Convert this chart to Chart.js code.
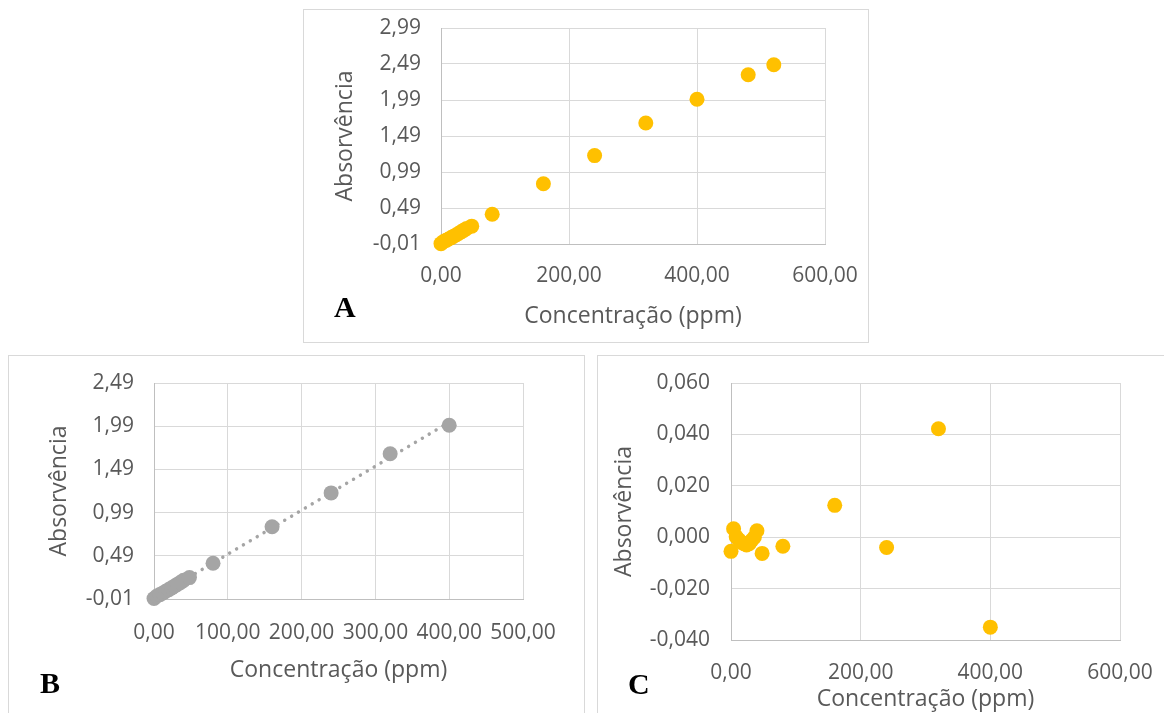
<!DOCTYPE html>
<html>
<head>
<meta charset="utf-8">
<script src="https://cdn.jsdelivr.net/npm/chart.js@4.4.1/dist/chart.umd.min.js"></script>
<style>
    body { margin: 0; background: #ffffff; }
    #page { position: relative; width: 1164px; height: 713px; overflow: hidden; background: #ffffff; }
    .box { position: absolute; border: 1px solid #d9d9d9; box-sizing: border-box; background: #ffffff; }
    canvas { position: absolute; }
    .letter { position: absolute; font-family: "Liberation Serif", "Times New Roman", serif; font-weight: bold; font-size: 30px; line-height: 30px; color: #000000; }
</style>
</head>
<body>
<div id="page">
    <div class="box" style="left:303px; top:9px; width:566px; height:334px;"></div>
    <div class="box" style="left:8px; top:355px; width:577px; height:370px;"></div>
    <div class="box" style="left:597px; top:355px; width:580px; height:370px;"></div>
    <canvas id="chartA" style="left:304px; top:10px;" width="564" height="332"></canvas>
    <canvas id="chartB" style="left:9px; top:356px;" width="575" height="357"></canvas>
    <canvas id="chartC" style="left:598px; top:356px;" width="566" height="357"></canvas>
    <div class="letter" style="left:334px; top:292px;">A</div>
    <div class="letter" style="left:40px; top:668px;">B</div>
    <div class="letter" style="left:628px; top:669px;">C</div>
</div>
<script>
// A: calibration curve, full range
const concA = [0, 4, 8, 12, 16, 20, 24, 28, 32, 36, 40, 48, 80, 160, 240, 320, 400, 480, 520];
const absA = [-0.005, 0.024, 0.041, 0.060, 0.079, 0.099, 0.119, 0.140, 0.162, 0.183, 0.206, 0.238, 0.404, 0.827, 1.218, 1.671, 2.001, 2.341, 2.480];
const xTicksA = [0, 200, 400, 600];
const yTicksA = [-0.01, 0.49, 0.99, 1.49, 1.99, 2.49, 2.99];

// B: linear range with trendline
const concB = [0, 4, 8, 12, 16, 20, 24, 28, 32, 36, 40, 48, 80, 160, 240, 320, 400];
const absB = [-0.005, 0.024, 0.041, 0.060, 0.079, 0.099, 0.119, 0.140, 0.162, 0.183, 0.206, 0.238, 0.404, 0.827, 1.218, 1.671, 2.001];
const xTicksB = [0, 100, 200, 300, 400, 500];
const yTicksB = [-0.01, 0.49, 0.99, 1.49, 1.99, 2.49];

// C: residuals
const concC = [0, 4, 8, 12, 16, 20, 24, 28, 32, 36, 40, 48, 80, 160, 240, 320, 400];
const residC = [-0.0055, 0.0033, 0.0002, -0.0010, -0.0020, -0.0025, -0.0030, -0.0025, -0.0012, 0.0000, 0.0025, -0.0063, -0.0035, 0.0124, -0.0040, 0.0422, -0.0350];
const xTicksC = [0, 200, 400, 600];
const yTicksC = [-0.040, -0.020, 0.000, 0.020, 0.040, 0.060];

const xTitle = 'Concentração (ppm)';
const yTitle = 'Absorvência';

const textColor = '#595959';
const gridColor = '#d9d9d9';
const axisColor = '#bfbfbf';
const yellow = '#ffc000';
const gray = '#a5a5a5';
const fontFamily = '"Open Sans", "Noto Sans", sans-serif';

function toPoints(xs, ys) {
    return xs.map((x, i) => ({x: x, y: ys[i]}));
}

function trendLine(xs, ys) {
    const n = xs.length;
    const mx = xs.reduce((a, b) => a + b, 0) / n;
    const my = ys.reduce((a, b) => a + b, 0) / n;
    let sxy = 0, sxx = 0;
    for (let i = 0; i < n; i++) {
        sxy += (xs[i] - mx) * (ys[i] - my);
        sxx += (xs[i] - mx) * (xs[i] - mx);
    }
    const slope = sxy / sxx;
    const intercept = my - slope * mx;
    const x0 = Math.min(...xs), x1 = Math.max(...xs);
    return [{x: x0, y: intercept + slope * x0}, {x: x1, y: intercept + slope * x1}];
}

function comma(v, digits) {
    return v.toFixed(digits).replace('.', ',');
}

function makeChart(id, datasets, xTicks, yTicks, yDigits, lay) {
    return new Chart(document.getElementById(id), {
        type: 'scatter',
        data: {datasets: datasets},
        options: {
            responsive: false,
            animation: false,
            events: [],
            layout: {padding: lay.padding},
            plugins: {legend: {display: false}, tooltip: {enabled: false}},
            scales: {
                x: {
                    type: 'linear',
                    min: xTicks[0],
                    max: xTicks[xTicks.length - 1],
                    afterBuildTicks: s => { s.ticks = xTicks.map(v => ({value: v})); },
                    // fixed box, and no extra room for the end labels: layout padding decides
                    afterFit: s => {
                        s.height = lay.xHeight;
                        s.paddingLeft = 0;
                        s.paddingRight = 0;
                    },
                    grid: {color: gridColor, drawTicks: false},
                    border: {color: axisColor},
                    ticks: {
                        color: textColor,
                        padding: lay.xPad,
                        maxRotation: 0,
                        autoSkip: false,
                        font: {family: fontFamily, size: 21},
                        callback: v => comma(v, 2)
                    },
                    title: {
                        display: true,
                        text: xTitle,
                        color: textColor,
                        padding: 0,
                        font: {family: fontFamily, size: 23}
                    }
                },
                y: {
                    type: 'linear',
                    min: yTicks[0],
                    max: yTicks[yTicks.length - 1],
                    afterBuildTicks: s => { s.ticks = yTicks.map(v => ({value: v})); },
                    afterFit: s => {
                        s.width = lay.yWidth;
                        s.paddingTop = 0;
                        s.paddingBottom = 0;
                    },
                    grid: {color: gridColor, drawTicks: false},
                    border: {color: axisColor},
                    ticks: {
                        color: textColor,
                        padding: lay.yPad,
                        autoSkip: false,
                        font: {family: fontFamily, size: 21},
                        callback: v => comma(v, yDigits)
                    },
                    title: {
                        display: true,
                        text: yTitle,
                        color: textColor,
                        padding: 0,
                        font: {family: fontFamily, size: 23}
                    }
                }
            }
        }
    });
}

makeChart('chartA', [
    {
        data: toPoints(concA, absA),
        backgroundColor: yellow,
        borderWidth: 0,
        pointRadius: 7.5,
        clip: false
    }
], xTicksA, yTicksA, 2, {
    padding: {left: 28, right: 43, top: 18, bottom: 12},
    yWidth: 109, xHeight: 86, xPad: 19, yPad: 20
});

makeChart('chartB', [
    {
        data: toPoints(concB, absB),
        backgroundColor: gray,
        borderWidth: 0,
        pointRadius: 7.5,
        clip: false,
        order: 0
    },
    {
        type: 'line',
        data: trendLine(concB, absB),
        borderColor: gray,
        borderWidth: 3.5,
        borderDash: [0.01, 8],
        borderCapStyle: 'round',
        pointRadius: 0,
        fill: false,
        clip: false,
        order: 1
    }
], xTicksB, yTicksB, 2, {
    padding: {left: 37, right: 61, top: 27, bottom: 29},
    yWidth: 108, xHeight: 85, xPad: 21, yPad: 20
});

makeChart('chartC', [
    {
        data: toPoints(concC, residC),
        backgroundColor: yellow,
        borderWidth: 0,
        pointRadius: 7.5,
        clip: false
    }
], xTicksC, yTicksC, 3, {
    padding: {left: 13, right: 44, top: 27, bottom: 0},
    yWidth: 120, xHeight: 73, xPad: 20, yPad: 21
});
</script>
</body>
</html>
